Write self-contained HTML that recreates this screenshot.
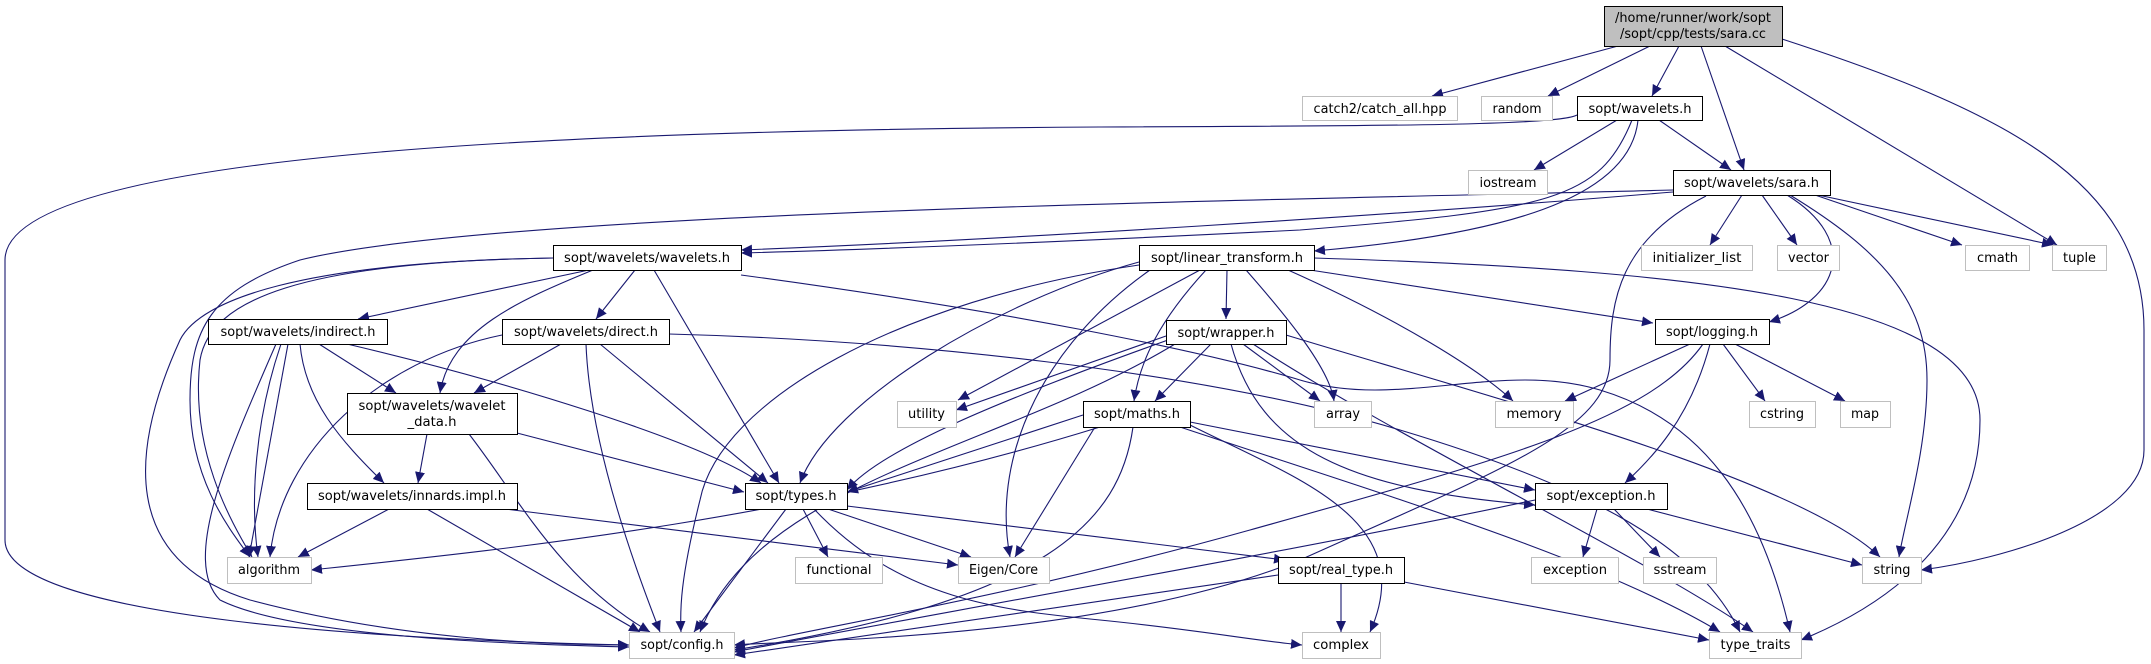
<!DOCTYPE html>
<html><head><meta charset="utf-8"><style>
html,body{margin:0;padding:0;background:#fff;}
svg{display:block;}
text{font-family:"DejaVu Sans","Liberation Sans",sans-serif;font-size:13px;fill:#000;}
</style></head><body>
<svg width="2151" height="664" viewBox="0 0 2151 664" xmlns="http://www.w3.org/2000/svg">
<defs>
<marker id="a" markerUnits="userSpaceOnUse" markerWidth="12" markerHeight="10" refX="11" refY="5" orient="auto">
<path d="M0,0 L11,5 L0,10 Z" fill="#191970"/>
</marker>
</defs>
<g fill="none" stroke="#191970" stroke-width="1.1" marker-end="url(#a)">
<path d="M1618,46 L1432,96"/>
<path d="M1650,46 L1548,96"/>
<path d="M1679,46 L1652,96"/>
<path d="M1701,46 L1744,170"/>
<path d="M1725,46 L2057,245"/>
<path d="M1782,39 C2000,110 2144,180 2144,330 L2144,450 C2144,520 2000,560 1921,570"/>
<path d="M1577,115 C1560,125 1400,126 1100,127 C600,130 5,150 5,260 L5,540 C5,620 400,640 629,645"/>
<path d="M1617,120 L1534,170"/>
<path d="M1659,120 L1731,170"/>
<path d="M1632,120 C1600,200 1550,210 1300,230 C1000,245 850,250 741,253"/>
<path d="M1638,120 C1630,200 1500,235 1314,251"/>
<path d="M1673,190 C1300,200 500,210 300,260 C210,290 190,330 190,400 C190,480 230,530 250,557"/>
<path d="M1673,192 C1400,215 1000,240 741,250"/>
<path d="M1706,196 C1620,240 1610,300 1610,360 C1610,430 1500,470 1300,560 C1100,640 800,640 734,645"/>
<path d="M1742,195 L1710,245"/>
<path d="M1762,195 L1797,245"/>
<path d="M1787,195 C1860,240 1840,300 1769,322"/>
<path d="M1790,195 C1880,250 1927,300 1927,380 C1927,450 1905,520 1899,557"/>
<path d="M1815,195 L1962,245"/>
<path d="M1818,195 L2053,245"/>
<path d="M589,270 L358,319"/>
<path d="M635,270 L596,319"/>
<path d="M593,270 C520,300 450,330 440,393"/>
<path d="M654,270 L779,483"/>
<path d="M553,258 C300,262 210,300 200,360 C190,450 230,520 252,557"/>
<path d="M553,258 C300,262 200,300 180,340 C130,450 120,560 250,600 C400,640 550,645 629,645"/>
<path d="M741,275 C1000,310 1200,350 1300,380 C1400,410 1500,360 1600,390 C1700,420 1760,500 1790,632"/>
<path d="M288,344 L249,557"/>
<path d="M281,344 C255,420 250,500 258,557"/>
<path d="M276,344 C230,450 180,560 220,600 C300,640 550,645 629,647"/>
<path d="M319,344 L396,393"/>
<path d="M300,344 C305,400 340,440 384,483"/>
<path d="M347,344 C500,380 700,440 761,483"/>
<path d="M561,344 L474,393"/>
<path d="M600,344 L768,483"/>
<path d="M586,344 C590,450 640,580 660,632"/>
<path d="M502,335 C380,360 280,450 270,557"/>
<path d="M669,334 C900,340 1200,370 1400,430 C1600,490 1700,550 1740,632"/>
<path d="M427,434 L418,483"/>
<path d="M517,433 L744,492"/>
<path d="M469,434 C520,500 560,580 650,632"/>
<path d="M389,509 L298,557"/>
<path d="M427,509 L640,632"/>
<path d="M505,509 L958,565"/>
<path d="M786,509 L694,632"/>
<path d="M803,509 L828,557"/>
<path d="M828,509 L971,557"/>
<path d="M814,509 C900,600 1000,610 1100,620 C1200,630 1250,640 1302,645"/>
<path d="M847,506 L1285,560"/>
<path d="M1139,262 C1000,300 830,400 800,483"/>
<path d="M1139,265 C900,300 720,400 700,500 C680,580 680,610 681,632"/>
<path d="M1150,270 C1050,340 990,450 1010,557"/>
<path d="M1200,270 L958,400"/>
<path d="M1206,270 C1160,320 1140,360 1134,401"/>
<path d="M1227,270 L1226,319"/>
<path d="M1246,270 C1290,320 1330,370 1334,401"/>
<path d="M1288,270 C1400,320 1480,370 1513,401"/>
<path d="M1310,270 L1653,323"/>
<path d="M1314,258 C1700,270 1980,300 1980,420 C1980,560 1850,620 1801,640"/>
<path d="M1166,336 L956,410"/>
<path d="M1168,340 C1000,400 880,450 847,490"/>
<path d="M1175,344 C1000,450 760,480 700,632"/>
<path d="M1211,344 L1155,401"/>
<path d="M1243,344 L1320,401"/>
<path d="M1231,344 C1260,450 1350,490 1535,505"/>
<path d="M1253,344 C1400,440 1650,560 1753,632"/>
<path d="M1286,335 C1500,400 1800,480 1880,557"/>
<path d="M1083,415 L847,492"/>
<path d="M1133,427 C1120,520 1050,600 734,650"/>
<path d="M1100,427 C800,520 500,550 311,570"/>
<path d="M1095,427 L1015,557"/>
<path d="M1190,422 L1535,490"/>
<path d="M1190,425 C1300,480 1420,520 1370,632"/>
<path d="M1180,427 C1400,500 1600,560 1720,632"/>
<path d="M1690,344 L1565,401"/>
<path d="M1703,344 C1650,420 1500,460 1250,530 C1000,600 800,630 734,648"/>
<path d="M1710,344 C1690,420 1650,460 1625,483"/>
<path d="M1723,344 L1765,401"/>
<path d="M1735,344 L1845,401"/>
<path d="M1597,509 L1583,557"/>
<path d="M1614,509 L1660,557"/>
<path d="M1647,509 L1862,565"/>
<path d="M1535,500 C1300,550 900,620 734,652"/>
<path d="M1278,575 L734,655"/>
<path d="M1341,583 L1341,632"/>
<path d="M1404,582 L1709,640"/>
</g>
<g stroke-width="1">
<rect x="1604.5" y="6.5" width="178" height="40" fill="#bfbfbf" stroke="#000"/>
<text x="1693" y="22" text-anchor="middle" textLength="156" lengthAdjust="spacingAndGlyphs">/home/runner/work/sopt</text>
<text x="1693" y="38" text-anchor="middle" textLength="146" lengthAdjust="spacingAndGlyphs">/sopt/cpp/tests/sara.cc</text>
</g>
<g fill="#fff" stroke="#000">
<rect x="1577.5" y="96.5" width="125" height="24"/>
<rect x="1673.5" y="170.5" width="157" height="25"/>
<rect x="1139.5" y="245.5" width="175" height="25"/>
<rect x="553.5" y="245.5" width="188" height="25"/>
<rect x="208.5" y="319.5" width="179" height="25"/>
<rect x="502.5" y="319.5" width="167" height="25"/>
<rect x="1166.5" y="320.5" width="120" height="24"/>
<rect x="1655.5" y="319.5" width="114" height="25"/>
<rect x="347.5" y="393.5" width="170" height="41"/>
<rect x="1083.5" y="401.5" width="107" height="26"/>
<rect x="307.5" y="483.5" width="210" height="26"/>
<rect x="745.5" y="483.5" width="102" height="26"/>
<rect x="1535.5" y="483.5" width="132" height="26"/>
<rect x="1278.5" y="557.5" width="126" height="26"/>
</g>
<g fill="#fff" stroke="#bfbfbf">
<rect x="1302.5" y="96.5" width="155" height="24"/>
<rect x="1481.5" y="96.5" width="71" height="24"/>
<rect x="1468.5" y="170.5" width="79" height="24"/>
<rect x="1641.5" y="245.5" width="111" height="25"/>
<rect x="1777.5" y="245.5" width="62" height="25"/>
<rect x="1965.5" y="245.5" width="64" height="25"/>
<rect x="2052.5" y="245.5" width="54" height="25"/>
<rect x="897.5" y="401.5" width="59" height="26"/>
<rect x="1314.5" y="401.5" width="57" height="26"/>
<rect x="1495.5" y="401.5" width="78" height="26"/>
<rect x="1749.5" y="401.5" width="66" height="26"/>
<rect x="1840.5" y="401.5" width="50" height="26"/>
<rect x="227.5" y="557.5" width="84" height="26"/>
<rect x="795.5" y="557.5" width="87" height="26"/>
<rect x="958.5" y="557.5" width="91" height="26"/>
<rect x="1531.5" y="557.5" width="87" height="26"/>
<rect x="1643.5" y="557.5" width="73" height="26"/>
<rect x="1862.5" y="557.5" width="59" height="26"/>
<rect x="629.5" y="632.5" width="105" height="26"/>
<rect x="1302.5" y="632.5" width="78" height="26"/>
<rect x="1709.5" y="632.5" width="92" height="26"/>
</g>
<g text-anchor="middle">
<text x="1640" y="113" textLength="103" lengthAdjust="spacingAndGlyphs">sopt/wavelets.h</text>
<text x="1751.5" y="187" textLength="135" lengthAdjust="spacingAndGlyphs">sopt/wavelets/sara.h</text>
<text x="1227" y="262" textLength="152" lengthAdjust="spacingAndGlyphs">sopt/linear_transform.h</text>
<text x="647" y="262" textLength="166" lengthAdjust="spacingAndGlyphs">sopt/wavelets/wavelets.h</text>
<text x="298" y="336" textLength="155" lengthAdjust="spacingAndGlyphs">sopt/wavelets/indirect.h</text>
<text x="586" y="336" textLength="144" lengthAdjust="spacingAndGlyphs">sopt/wavelets/direct.h</text>
<text x="1226" y="337" textLength="97" lengthAdjust="spacingAndGlyphs">sopt/wrapper.h</text>
<text x="1712" y="336" textLength="92" lengthAdjust="spacingAndGlyphs">sopt/logging.h</text>
<text x="432" y="410" textLength="147" lengthAdjust="spacingAndGlyphs">sopt/wavelets/wavelet</text>
<text x="432" y="426" textLength="49" lengthAdjust="spacingAndGlyphs">_data.h</text>
<text x="1137" y="418" textLength="86" lengthAdjust="spacingAndGlyphs">sopt/maths.h</text>
<text x="412" y="500" textLength="188" lengthAdjust="spacingAndGlyphs">sopt/wavelets/innards.impl.h</text>
<text x="796" y="500" textLength="81" lengthAdjust="spacingAndGlyphs">sopt/types.h</text>
<text x="1601" y="500" textLength="109" lengthAdjust="spacingAndGlyphs">sopt/exception.h</text>
<text x="1341" y="574" textLength="104" lengthAdjust="spacingAndGlyphs">sopt/real_type.h</text>
<text x="1380" y="113" textLength="133" lengthAdjust="spacingAndGlyphs">catch2/catch_all.hpp</text>
<text x="1517" y="113" textLength="49" lengthAdjust="spacingAndGlyphs">random</text>
<text x="1508" y="187" textLength="57" lengthAdjust="spacingAndGlyphs">iostream</text>
<text x="1697" y="262" textLength="89" lengthAdjust="spacingAndGlyphs">initializer_list</text>
<text x="1808.5" y="262" textLength="41" lengthAdjust="spacingAndGlyphs">vector</text>
<text x="1997.5" y="262" textLength="41" lengthAdjust="spacingAndGlyphs">cmath</text>
<text x="2079.5" y="262" textLength="33" lengthAdjust="spacingAndGlyphs">tuple</text>
<text x="926.5" y="418" textLength="37" lengthAdjust="spacingAndGlyphs">utility</text>
<text x="1343" y="418" textLength="34" lengthAdjust="spacingAndGlyphs">array</text>
<text x="1534" y="418" textLength="55" lengthAdjust="spacingAndGlyphs">memory</text>
<text x="1782" y="418" textLength="44" lengthAdjust="spacingAndGlyphs">cstring</text>
<text x="1865" y="418" textLength="28" lengthAdjust="spacingAndGlyphs">map</text>
<text x="269" y="574" textLength="62" lengthAdjust="spacingAndGlyphs">algorithm</text>
<text x="839" y="574" textLength="65" lengthAdjust="spacingAndGlyphs">functional</text>
<text x="1003.5" y="574" textLength="69" lengthAdjust="spacingAndGlyphs">Eigen/Core</text>
<text x="1575" y="574" textLength="64" lengthAdjust="spacingAndGlyphs">exception</text>
<text x="1680" y="574" textLength="53" lengthAdjust="spacingAndGlyphs">sstream</text>
<text x="1892" y="574" textLength="37" lengthAdjust="spacingAndGlyphs">string</text>
<text x="682" y="649" textLength="83" lengthAdjust="spacingAndGlyphs">sopt/config.h</text>
<text x="1341" y="649" textLength="56" lengthAdjust="spacingAndGlyphs">complex</text>
<text x="1755.5" y="649" textLength="70" lengthAdjust="spacingAndGlyphs">type_traits</text>
</g>
</svg>
</body></html>
